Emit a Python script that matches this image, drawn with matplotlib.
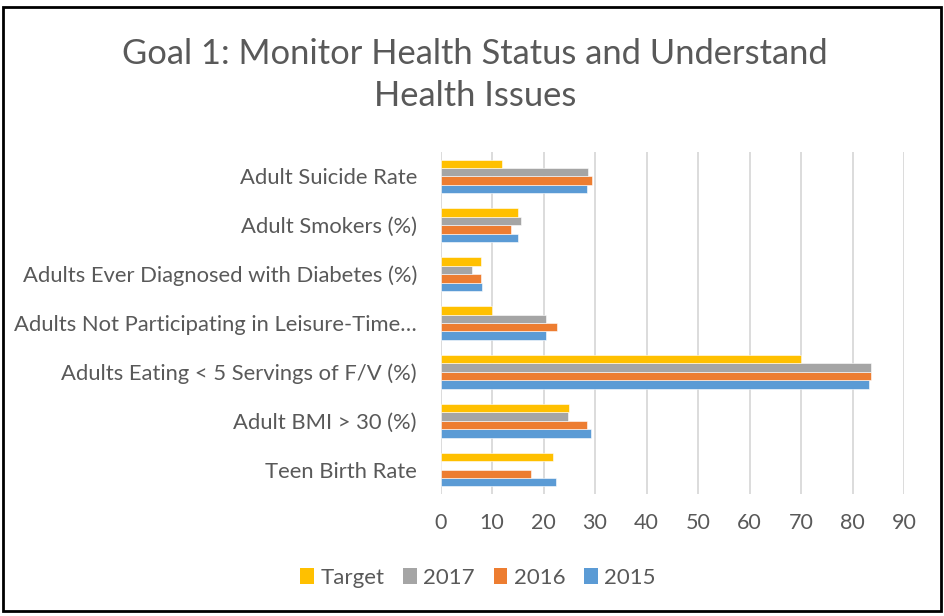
import matplotlib
matplotlib.use("Agg")
import matplotlib.pyplot as plt
import numpy as np
from matplotlib.patches import Rectangle

# Data
categories = ['Teen Birth Rate', 'Adult BMI > 30 (%)', 'Adults Eating < 5 Servings of F/V (%)',
              'Adults Not Participating in Leisure-Time…', 'Adults Ever Diagnosed with Diabetes (%)',
              'Adult Smokers (%)', 'Adult Suicide Rate']
series_names = ['2015', '2016', '2017', 'Target']
vals_2015 = [22.4, 29.3, 83.3, 20.5, 8.1, 15.0, 28.4]
vals_2016 = [17.6, 28.4, 83.6, 22.6, 7.9, 13.6, 29.4]
vals_2017 = [0, 24.7, 83.6, 20.5, 6.2, 15.7, 28.6]
vals_target = [21.8, 25, 70, 10, 7.9, 15, 12]
x_ticks = [0, 10, 20, 30, 40, 50, 60, 70, 80, 90]

colors = ['#5B9BD5', '#ED7D31', '#A5A5A5', '#FFC000']
TEXT = '#595959'

plt.rcParams['font.family'] = ['Lato', 'DejaVu Sans']

fig = plt.figure(figsize=(9.44, 6.16), dpi=100)
ax = fig.add_axes([440.5 / 944, 1 - 494 / 616, (904 - 440.5) / 944, (494 - 152) / 616])

y = np.arange(len(categories))
h = 0.172
all_vals = [vals_2015, vals_2016, vals_2017, vals_target]
for i, (vals, name, c) in enumerate(zip(all_vals, series_names, colors)):
    ax.barh(y + (i - 1.5) * h, vals, height=h, color=c, label=name, zorder=3,
            edgecolor='white', linewidth=0.4)

ax.set_xlim(0, 90)
ax.set_ylim(-0.5, len(categories) - 0.5)
ax.set_xticks(x_ticks)
ax.set_yticks(y)
ax.set_yticklabels(categories)
ax.tick_params(axis='both', length=0, colors=TEXT)
ax.tick_params(axis='x', pad=14, labelsize=15.5)
ax.tick_params(axis='y', pad=17, labelsize=15.8)
ax.grid(axis='x', color='#D9D9D9', linewidth=1.3, zorder=0)
for s in ax.spines.values():
    s.set_visible(False)

handles, labels = ax.get_legend_handles_labels()
leg = fig.legend(handles[::-1], labels[::-1], loc='center', bbox_to_anchor=(478 / 944, 1 - 578 / 616),
                 ncol=4, frameon=False, fontsize=16, handlelength=0.6, handleheight=0.7,
                 handletextpad=0.3, columnspacing=0.85)
for t in leg.get_texts():
    t.set_color(TEXT)
for p in leg.get_patches():
    p.set_linewidth(0)

fig.text(475 / 944, 1 - 75 / 616, 'Goal 1: Monitor Health Status and Understand\nHealth Issues',
         ha='center', va='center', fontsize=24.8, color=TEXT, linespacing=1.35)

fig.patches.append(Rectangle((3 / 944, 5 / 616), 938 / 944, 604 / 616, transform=fig.transFigure,
                             fill=False, edgecolor='black', linewidth=2))

fig.savefig('out.png', dpi=100)
